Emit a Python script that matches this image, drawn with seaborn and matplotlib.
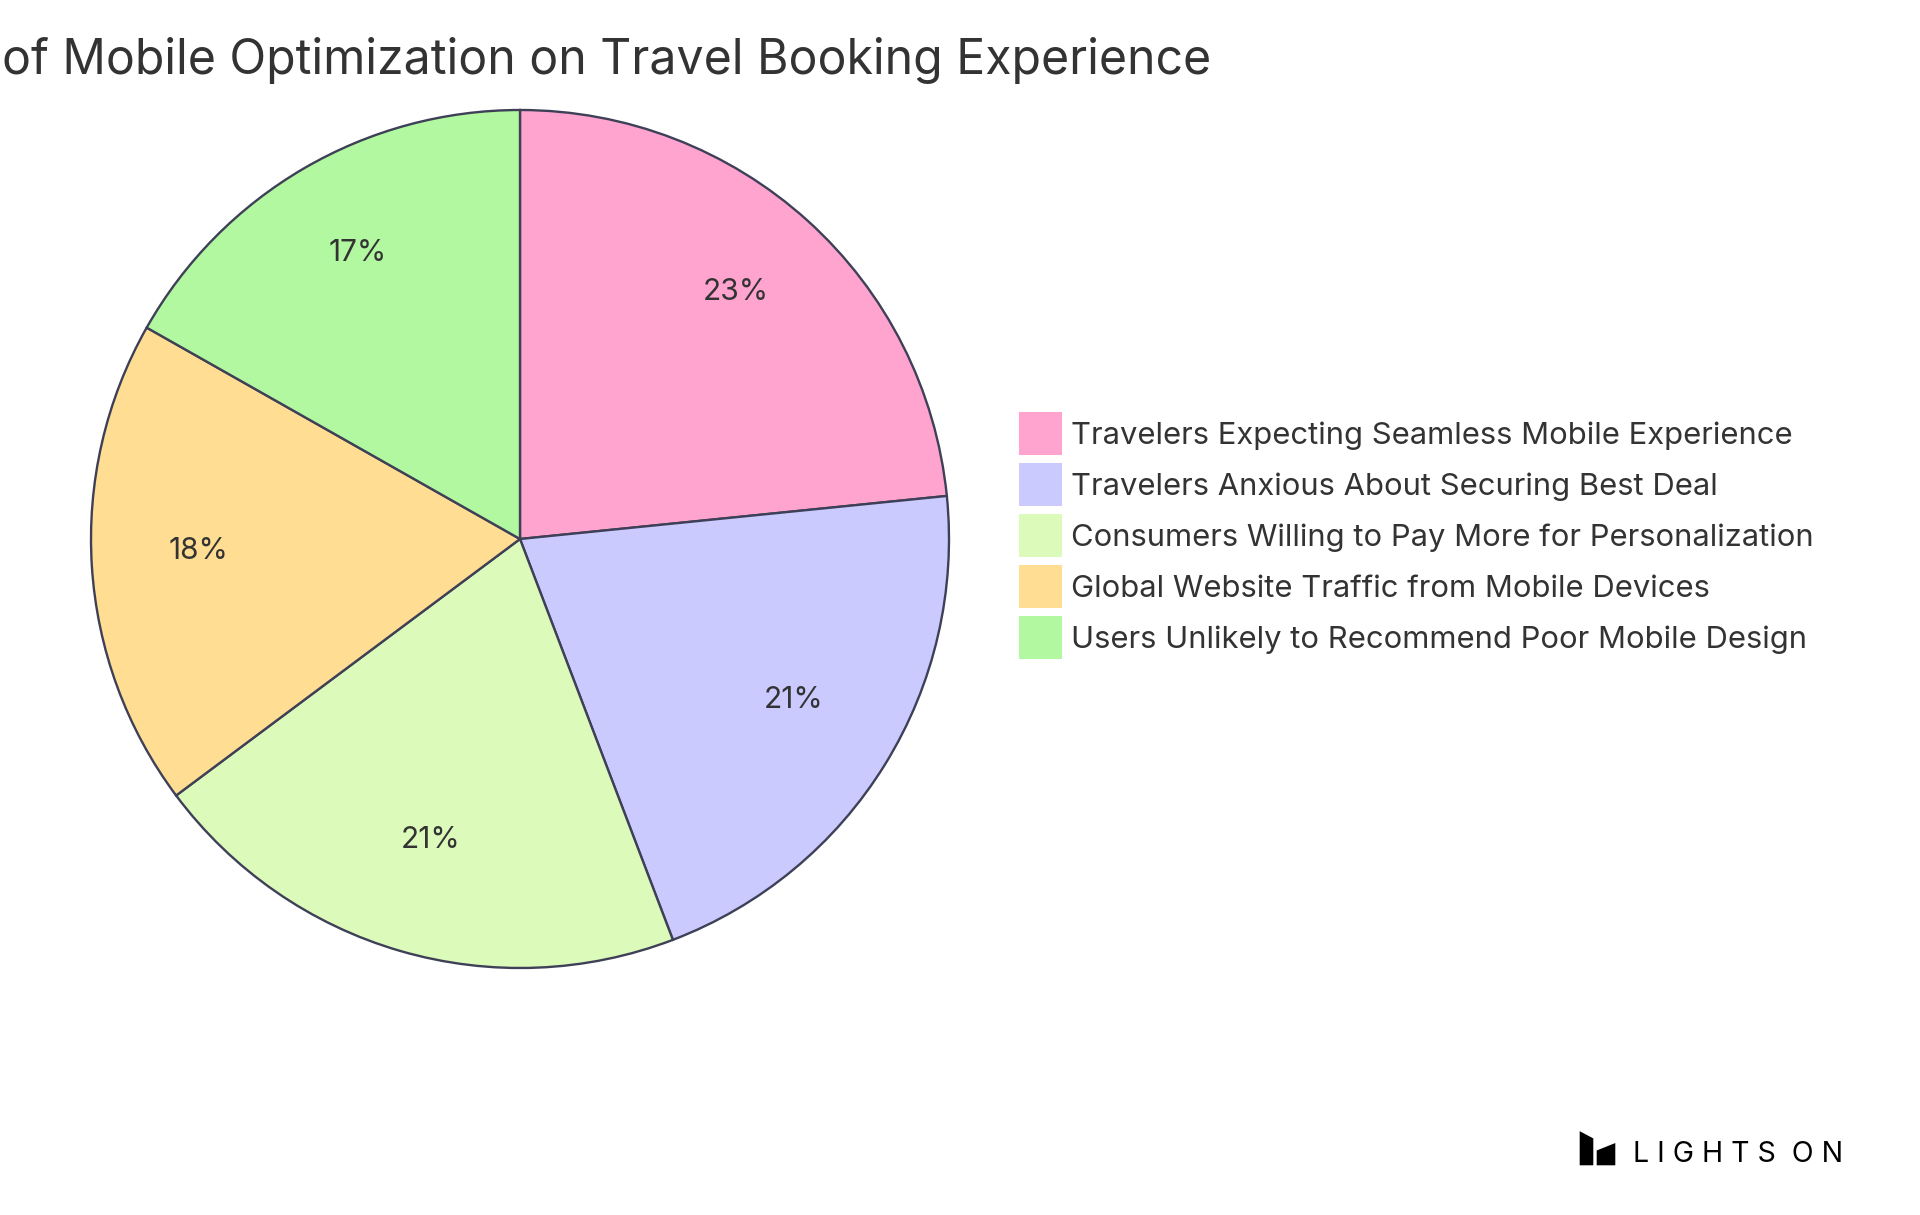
import seaborn as sns
import matplotlib.pyplot as plt
from matplotlib.patches import Polygon

# Data
categories = [
    "Travelers Expecting Seamless Mobile Experience",
    "Travelers Anxious About Securing Best Deal",
    "Consumers Willing to Pay More for Personalization",
    "Global Website Traffic from Mobile Devices",
    "Users Unlikely to Recommend Poor Mobile Design",
]
shares = [23.4, 20.8, 20.6, 18.4, 16.8]
slice_colors = ["#FFA3CF", "#CACAFF", "#DCFABA", "#FFDD92", "#B2F8A0"]
title = "of Mobile Optimization on Travel Booking Experience"

sns.set_theme(style="white")
plt.rcParams["font.family"] = ["Inter", "DejaVu Sans"]

W, H = 1920, 1215
fig = plt.figure(figsize=(W / 100, H / 100), dpi=100)
fig.patch.set_facecolor("white")

# pie axes placed by pixel box: centre (520, 539), radius 429
cx, cy, r = 520, 539, 429
ax = fig.add_axes([(cx - r) / W, (H - cy - r) / H, 2 * r / W, 2 * r / H])
wedges, _, autotexts = ax.pie(
    shares,
    colors=slice_colors,
    startangle=90,
    counterclock=False,
    autopct=lambda p: f"{p:.0f}%",
    pctdistance=0.75,
    wedgeprops=dict(edgecolor="#3E4057", linewidth=1.7),
    textprops=dict(fontsize=21.5, color="#333333"),
)
# labels sit on their baseline, like the svg source
for t in autotexts:
    t.set_va("baseline")
ax.set_xlim(-1, 1)
ax.set_ylim(-1, 1)
ax.set_aspect("equal")
ax.axis("off")

# title (the source shows it cut at the left edge)
fig.text(2 / W, 1 - 60 / H, title, ha="left", va="center",
         fontsize=34.7, color="#333333")

# legend
leg = fig.legend(
    wedges, categories,
    loc="upper left",
    bbox_to_anchor=(1019 / W, 1 - 412 / H),
    frameon=False,
    fontsize=22.3,
    handlelength=1.38, handleheight=1.76,
    handletextpad=0.3, labelspacing=0.26,
    borderpad=0, borderaxespad=0,
)
for t in leg.get_texts():
    t.set_color("#333333")
for h in leg.legend_handles:
    h.set_edgecolor("none")

# logo
def px(x, y):
    return (x / W, 1 - y / H)

fig.patches.append(Polygon([px(1579, 1130), px(1594, 1138), px(1594, 1166), px(1579, 1166)],
                           closed=True, transform=fig.transFigure, facecolor="black"))
fig.patches.append(Polygon([px(1596, 1150), px(1616, 1142), px(1616, 1166), px(1596, 1166)],
                           closed=True, transform=fig.transFigure, facecolor="black"))
fig.text(1633 / W, 1 - 1154 / H, "L I G H T S  O N", ha="left", va="center",
         fontsize=20.5, color="black")

fig.savefig("out.png", dpi=100)
